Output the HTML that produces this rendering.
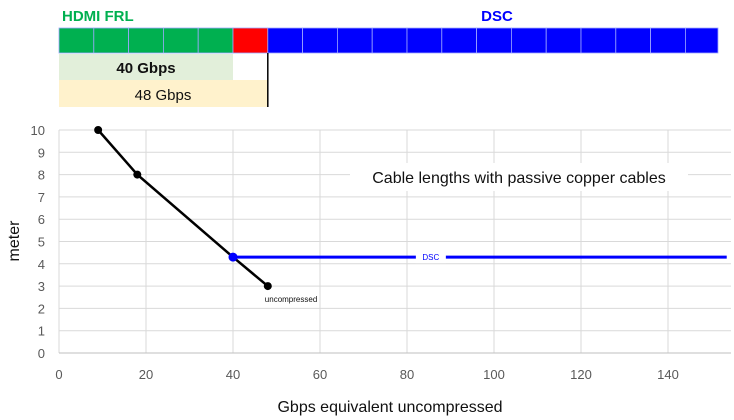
<!DOCTYPE html>
<html><head><meta charset="utf-8"><style>
body{margin:0;background:#fff;font-family:"Liberation Sans",sans-serif;}
svg{display:block}
</style></head><body>
<svg width="734" height="420" xmlns="http://www.w3.org/2000/svg">
<g id="topbar"></g>
<g id="grid"></g>
<g id="axes"></g>
<g id="series"></g>
</svg>
<script>
const xTicks=[0,20,40,60,80,100,120,140];
const yTicks=[0,1,2,3,4,5,6,7,8,9,10];
const frlX=[9,18,40,48];
const frlY=[10,8,4.3,3];
const dscX=[40,153.5];
const dscY=[4.3,4.3];
const NS="http://www.w3.org/2000/svg";
const X=v=>59+v*4.35, Y=v=>353-v*22.3;
function mk(p,t,a,txt){const e=document.createElementNS(NS,t);for(const k in a)e.setAttribute(k,a[k]);if(txt!==undefined)e.textContent=txt;p.appendChild(e);return e;}
const gTop=document.getElementById('topbar'),gGrid=document.getElementById('grid'),gAxes=document.getElementById('axes'),gSer=document.getElementById('series');
let t=mk(gTop,'text',{x:62,y:21,fill:'#00b050','font-size':15,'font-weight':'bold'},'HDMI FRL');


t=mk(gTop,'text',{x:497,y:21,fill:'#0000ff','font-size':15,'font-weight':'bold','text-anchor':'middle'},'DSC');


for(let i=0;i<19;i++){const x0=X(i*8),x1=X((i+1)*8);if(x0>718)break;
 const c=i<5?'#00b050':(i==5?'#ff0000':'#0000ff');
 const r=mk(gTop,'rect',{x:x0,y:28,width:Math.min(x1,718)-x0,height:25,fill:c,stroke:'#9fa8ff','stroke-width':0.8});
 
 }
let b=mk(gTop,'rect',{x:59,y:54,width:X(40)-59,height:26,fill:'#e2efda'});


t=mk(gTop,'text',{x:146,y:73,'font-size':15,'font-weight':'bold','text-anchor':'middle',fill:'#111'},'40 Gbps');


b=mk(gTop,'rect',{x:59,y:80,width:X(48)-59,height:27,fill:'#fff2cc'});


t=mk(gTop,'text',{x:163,y:100,'font-size':15,'text-anchor':'middle',fill:'#111'},'48 Gbps');


mk(gTop,'line',{x1:X(48),x2:X(48),y1:53,y2:107,stroke:'#000','stroke-width':1.5});
xTicks.forEach(v=>{const l=mk(gGrid,'line',{x1:X(v),x2:X(v),y1:Y(10),y2:Y(0),stroke:'#d9d9d9'});
 
 
 const tx=mk(gAxes,'text',{x:X(v),y:379,'font-size':13,fill:'#595959','text-anchor':'middle'},v);
 
 });
yTicks.forEach(v=>{const l=mk(gGrid,'line',{x1:59,x2:731,y1:Y(v),y2:Y(v),stroke:v?'#d9d9d9':'#bfbfbf'});
 
 
 const tx=mk(gAxes,'text',{x:45,y:Y(v)+5,'font-size':13,fill:'#595959','text-anchor':'end'},v);
 
 });
t=mk(gAxes,'text',{x:390,y:412,'font-size':16,'text-anchor':'middle',fill:'#111'},'Gbps equivalent uncompressed');


t=mk(gAxes,'text',{x:0,y:0,'font-size':16,'text-anchor':'middle',fill:'#111',transform:'translate(19,241) rotate(-90)'},'meter');


mk(gAxes,'rect',{x:350,y:163,width:338,height:28,fill:'#fff'});
t=mk(gAxes,'text',{x:519,y:183,'font-size':16,'text-anchor':'middle',fill:'#111'},'Cable lengths with passive copper cables');


let p=mk(gSer,'polyline',{points:frlX.map((v,i)=>X(v)+','+Y(frlY[i])).join(' '),fill:'none',stroke:'#000','stroke-width':2.5});


p=mk(gSer,'polyline',{points:dscX.map((v,i)=>X(v)+','+Y(dscY[i])).join(' '),fill:'none',stroke:'#0000ff','stroke-width':3});


const mx=(X(dscX[0])+X(dscX[1]))/2;
mk(gSer,'rect',{x:mx-64,y:Y(dscY[0])-6,width:30,height:12,fill:'#fff'});
t=mk(gSer,'text',{x:mx-49,y:Y(dscY[0])+3,'font-size':8,fill:'#0000ff','text-anchor':'middle'},'DSC');


frlX.forEach((v,i)=>{const c=mk(gSer,'circle',{cx:X(v),cy:Y(frlY[i]),r:i==2?4.5:4,fill:i==2?'#0000ff':'#000'});
 
 });
t=mk(gSer,'text',{x:X(48)-3,y:Y(3)+16,'font-size':8,fill:'#111'},'uncompressed');


</script>
</body></html>
